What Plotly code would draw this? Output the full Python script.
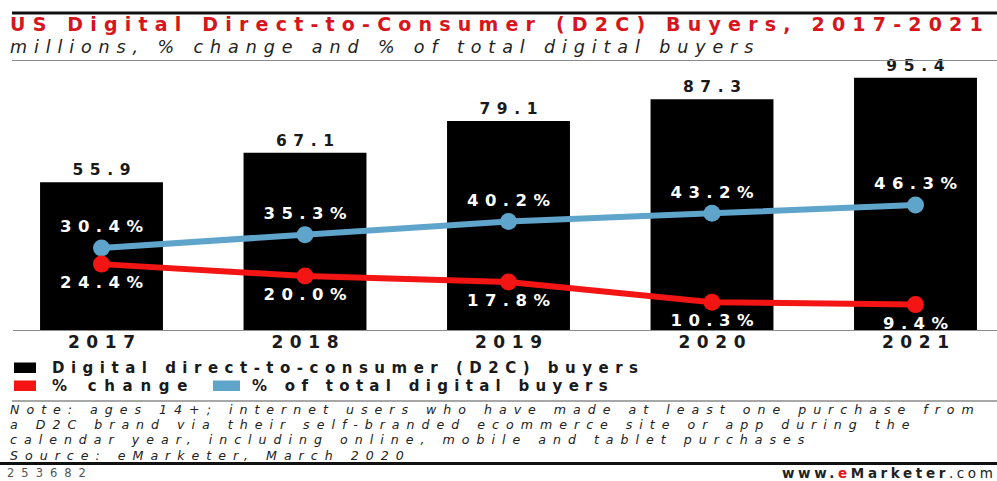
import plotly.graph_objects as go

# ---------------- data ----------------
years = ["2017", "2018", "2019", "2020", "2021"]
buyers = [55.9, 67.1, 79.1, 87.3, 95.4]          # millions
pct_change = [24.4, 20.0, 17.8, 10.3, 9.4]       # % change
pct_total = [30.4, 35.3, 40.2, 43.2, 46.3]       # % of total digital buyers

title_text = "US Digital Direct-to-Consumer (D2C) Buyers, 2017-2021"
subtitle_text = "millions, % change and % of total digital buyers"
legend_labels = ["Digital direct-to-consumer (D2C) buyers", "% change", "% of total digital buyers"]
note_lines = [
    "Note: ages 14+; internet users who have made at least one purchase from",
    "a D2C brand via their self-branded ecommerce site or app during the",
    "calendar year, including online, mobile and tablet purchases",
    "Source: eMarketer, March 2020",
]
chart_id = "253682"

# ---------------- styling ----------------
W, H = 997, 481
FONT = "DejaVu Sans"
BLACK = "#000000"
RED = "#f31414"
BLUE = "#5fa4cb"
TITLE_RED = "#d8141c"
INK = "#1a1a1a"


def xp(px):
    return px / W


def yp(py):
    return 1 - py / H


def spaced(s, ls):
    """wide tracking between characters (not after the last one)"""
    return f"<span style='letter-spacing:{ls}px'>{s[:-1]}</span>{s[-1]}"


fig = go.Figure()

fig.add_trace(go.Bar(
    x=years, y=buyers, width=0.604,
    marker=dict(color=BLACK, line=dict(width=0)),
    text=[spaced(f"{v:.1f}", 6.6) for v in buyers], textposition="outside",
    textfont=dict(family=FONT, size=15.5, color=INK, weight="bold"),
    cliponaxis=False, yaxis="y", hoverinfo="skip",
))

fig.add_trace(go.Scatter(
    x=years, y=pct_total, mode="lines+markers+text",
    line=dict(color=BLUE, width=6), marker=dict(color=BLUE, size=17),
    text=[spaced(f"{v:.1f}%", 6.4) for v in pct_total], textposition="top center",
    textfont=dict(family=FONT, size=16.5, color="white", weight="bold"),
    yaxis="y2", cliponaxis=False, hoverinfo="skip",
))

fig.add_trace(go.Scatter(
    x=years, y=pct_change, mode="lines+markers+text",
    line=dict(color=RED, width=6), marker=dict(color=RED, size=17),
    text=[spaced(f"{v:.1f}%", 6.4) for v in pct_change], textposition="bottom center",
    textfont=dict(family=FONT, size=16.5, color="white", weight="bold"),
    yaxis="y2", cliponaxis=False, hoverinfo="skip",
))

plot_top, plot_bottom = 68, 330
plot_h = plot_bottom - plot_top

fig.update_layout(
    width=W, height=H, margin=dict(l=0, r=0, t=0, b=0),
    paper_bgcolor="white", plot_bgcolor="white", showlegend=False,
    xaxis=dict(domain=[xp(13), 1], type="category", range=[-0.4349, 4.4005],
               tickvals=years, ticktext=[spaced(y, 6.6) for y in years],
               showline=True, linecolor="#8c8c8c", linewidth=1, ticks="",
               ticklabelstandoff=-3,
               tickfont=dict(family=FONT, size=17, color=INK, weight="bold"),
               showgrid=False, zeroline=False, fixedrange=True),
    yaxis=dict(domain=[yp(plot_bottom), yp(plot_top)], range=[0, plot_h / 2.643],
               visible=False, fixedrange=True),
    yaxis2=dict(overlaying="y", range=[0, plot_h / 2.7], visible=False, fixedrange=True),
)

shapes = []


def hline(py, x0, x1, color, width):
    shapes.append(dict(type="line", xref="paper", yref="paper",
                       x0=xp(x0), x1=xp(x1), y0=yp(py), y1=yp(py),
                       line=dict(color=color, width=width)))


def rect(x0, x1, y0, y1, color):
    shapes.append(dict(type="rect", xref="paper", yref="paper",
                       x0=xp(x0), x1=xp(x1), y0=yp(y1), y1=yp(y0),
                       fillcolor=color, line=dict(width=0)))


hline(13, 12, 997, "#111111", 3)
hline(60.5, 12, 997, "#8a8a8a", 1)
hline(401, 12, 997, "#8a8a8a", 1.5)
hline(463.5, 0, 997, "#111111", 3)

rect(14, 36, 362.5, 373, BLACK)
rect(14, 36, 380.5, 391, RED)
rect(213, 240, 380.5, 391, BLUE)

annotations = []


def text(s, px, py, size, color=INK, weight="normal", style="normal", anchor="left"):
    annotations.append(dict(text=s, xref="paper", yref="paper", x=xp(px), y=yp(py),
                            xanchor=anchor, yanchor="middle", showarrow=False,
                            font=dict(family=FONT, size=size, color=color,
                                      weight=weight, style=style)))


text(spaced(title_text, 7.2), 8, 24.4, 19, TITLE_RED, "bold")
text(spaced(subtitle_text, 6.9), 8, 46.6, 17.5, "#222222", style="italic")

text(spaced(legend_labels[0], 6.5), 50, 367.5, 15, INK, "bold")
text(spaced(legend_labels[1], 7.7), 50, 386, 15, INK, "bold")
text(spaced(legend_labels[2], 6.3), 250, 386, 15, INK, "bold")

for i, line in enumerate(note_lines):
    text(spaced(line, 7.0), 8, 409.5 + i * 15.2, 12.6, "#222222", style="italic")

text(spaced(chart_id, 7.0), 5, 472.5, 11.5, "#555555")
text("<span style='letter-spacing:3.6px'><b>www.</b><b><span style='color:#e3141b'>e</span>"
     "Marketer</b>.co</span>m", 995, 472.5, 13.5, "#222222", anchor="right")

fig.update_layout(shapes=shapes, annotations=annotations)

fig.write_html("out.html")
